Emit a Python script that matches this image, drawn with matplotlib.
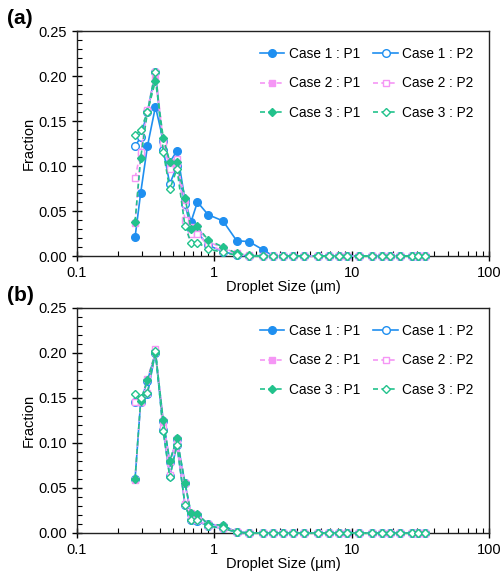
import matplotlib.pyplot as plt
from matplotlib.ticker import MultipleLocator, LogLocator, NullFormatter, FixedLocator

plt.rcParams['font.family'] = ['Liberation Sans', 'DejaVu Sans']

# droplet size bins (um)
size = [0.265, 0.291, 0.326, 0.373, 0.425, 0.474, 0.535, 0.612, 0.677, 0.754,
        0.900, 1.157, 1.456, 1.789, 2.263, 2.690, 3.18, 3.76, 4.52, 5.69,
        6.85, 8.09, 9.31, 11.3, 14.0, 16.6, 19.0, 22.5, 27.4, 30.6, 34.2]

# panel (a)
c1p1_a = [0.021, 0.070, 0.122, 0.166, 0.128, 0.104, 0.117, 0.062, 0.038, 0.060,
          0.046, 0.039, 0.017, 0.016, 0.007, 0, 0, 0, 0, 0,
          0, 0, 0, 0, 0, 0, 0, 0, 0, 0, 0]
c1p2_a = [0.122, 0.132, 0.160, 0.204, 0.118, 0.080, 0.100, 0.058, 0.030, 0.026,
          0.012, 0.005, 0.001, 0, 0, 0, 0, 0, 0, 0,
          0, 0, 0, 0, 0, 0, 0, 0, 0, 0, 0]
c2p1_a = [0.037, 0.112, 0.161, 0.197, 0.128, 0.104, 0.103, 0.062, 0.032, 0.032,
          0.016, 0.009, 0.003, 0.001, 0, 0, 0, 0, 0, 0,
          0, 0, 0, 0, 0, 0, 0, 0, 0, 0, 0]
c2p2_a = [0.087, 0.116, 0.162, 0.205, 0.126, 0.097, 0.108, 0.040, 0.025, 0.025,
          0.012, 0.006, 0.002, 0, 0, 0, 0, 0, 0, 0,
          0, 0, 0, 0, 0, 0, 0, 0, 0, 0, 0]
c3p1_a = [0.038, 0.109, 0.160, 0.195, 0.131, 0.105, 0.104, 0.065, 0.030, 0.033,
          0.018, 0.010, 0.003, 0.001, 0, 0, 0, 0, 0, 0,
          0, 0, 0, 0, 0, 0, 0, 0, 0, 0, 0]
c3p2_a = [0.134, 0.140, 0.160, 0.205, 0.116, 0.074, 0.097, 0.033, 0.015, 0.015,
          0.008, 0.004, 0.001, 0, 0, 0, 0, 0, 0, 0,
          0, 0, 0, 0, 0, 0, 0, 0, 0, 0, 0]

# panel (b)
c1p1_b = [0.060, 0.146, 0.169, 0.200, 0.124, 0.079, 0.104, 0.055, 0.021, 0.020,
          0.010, 0.008, 0.001, 0, 0, 0, 0, 0, 0, 0,
          0, 0, 0, 0, 0, 0, 0, 0, 0, 0, 0]
c1p2_b = [0.146, 0.148, 0.154, 0.201, 0.114, 0.063, 0.098, 0.031, 0.014, 0.013,
          0.008, 0.005, 0.001, 0, 0, 0, 0, 0, 0, 0,
          0, 0, 0, 0, 0, 0, 0, 0, 0, 0, 0]
c2p1_b = [0.059, 0.146, 0.171, 0.201, 0.124, 0.079, 0.104, 0.055, 0.022, 0.020,
          0.010, 0.008, 0.001, 0, 0, 0, 0, 0, 0, 0,
          0, 0, 0, 0, 0, 0, 0, 0, 0, 0, 0]
c2p2_b = [0.146, 0.146, 0.155, 0.204, 0.117, 0.064, 0.099, 0.032, 0.015, 0.014,
          0.008, 0.005, 0.001, 0, 0, 0, 0, 0, 0, 0,
          0, 0, 0, 0, 0, 0, 0, 0, 0, 0, 0]
c3p1_b = [0.060, 0.147, 0.170, 0.200, 0.125, 0.080, 0.105, 0.056, 0.022, 0.021,
          0.010, 0.0085, 0.001, 0, 0, 0, 0, 0, 0, 0,
          0, 0, 0, 0, 0, 0, 0, 0, 0, 0, 0]
c3p2_b = [0.154, 0.150, 0.156, 0.202, 0.113, 0.062, 0.098, 0.031, 0.014, 0.014,
          0.008, 0.005, 0.001, 0, 0, 0, 0, 0, 0, 0,
          0, 0, 0, 0, 0, 0, 0, 0, 0, 0, 0]

labels = ['Case 1 : P1', 'Case 1 : P2', 'Case 2 : P1',
          'Case 2 : P2', 'Case 3 : P1', 'Case 3 : P2']

blue = '#1f8ff0'
pink = '#f596f5'
green = '#22c28c'

# (color, marker, filled, linestyle, markersize)
styles = [
    (blue, 'o', True, '-', 5.5),
    (blue, 'o', False, '-', 5.5),
    (pink, 's', True, (0, (3, 2)), 5),
    (pink, 's', False, (0, (3, 2)), 5),
    (green, 'D', True, (0, (3, 2)), 4),
    (green, 'D', False, (0, (3, 2)), 4),
]


def draw_panel(ax, series, tag):
    handles = []
    for ys, lab, (c, m, filled, ls, ms) in zip(series, labels, styles):
        h, = ax.plot(size, ys, color=c, linestyle=ls, linewidth=1.2,
                     marker=m, markersize=ms,
                     markerfacecolor=c if filled else 'white',
                     markeredgecolor=c, markeredgewidth=1.0, label=lab,
                     clip_on=False, zorder=3)
        handles.append(h)

    ax.set_xscale('log')
    ax.set_xlim(0.1, 100)
    ax.set_ylim(0, 0.25)
    ax.xaxis.set_major_locator(FixedLocator([0.1, 1, 10, 100]))
    ax.set_xticklabels(['0.1', '1', '10', '100'])
    ax.xaxis.set_minor_locator(LogLocator(base=10, subs=range(2, 10)))
    ax.xaxis.set_minor_formatter(NullFormatter())
    ax.yaxis.set_major_locator(MultipleLocator(0.05))
    ax.yaxis.set_minor_locator(MultipleLocator(0.01))
    ax.yaxis.set_major_formatter(plt.FuncFormatter(lambda v, p: f'{v:.2f}'))

    ax.tick_params(which='major', direction='inout', length=7, width=1.0,
                   labelsize=10.5, colors='black')
    ax.tick_params(which='minor', direction='in', length=3.5, width=0.8)
    for s in ax.spines.values():
        s.set_linewidth(1.0)
        s.set_color('#222222')

    ax.set_xlabel('Droplet Size (µm)', fontsize=10.5, labelpad=0)
    ax.set_ylabel('Fraction', fontsize=10.5, labelpad=2)

    # row-major order in a two-column legend
    order = [0, 2, 4, 1, 3, 5]
    ax.legend([handles[i] for i in order], [labels[i] for i in order],
              ncol=2, loc='upper right', frameon=False, fontsize=9.8,
              handlelength=1.8, handletextpad=0.3, columnspacing=1.0,
              labelspacing=1.15, borderaxespad=0.75)

    ax.text(-0.17, 1.055, tag, transform=ax.transAxes, fontsize=15,
            fontweight='bold', va='center', ha='left')


fig = plt.figure(figsize=(5.03, 5.72), dpi=100)
ax_a = fig.add_axes([0.153, 0.5524, 0.819, 0.3934])
ax_b = fig.add_axes([0.153, 0.0682, 0.819, 0.3934])

draw_panel(ax_a, [c1p1_a, c1p2_a, c2p1_a, c2p2_a, c3p1_a, c3p2_a], '(a)')
draw_panel(ax_b, [c1p1_b, c1p2_b, c2p1_b, c2p2_b, c3p1_b, c3p2_b], '(b)')

fig.savefig('out.png', dpi=100)
